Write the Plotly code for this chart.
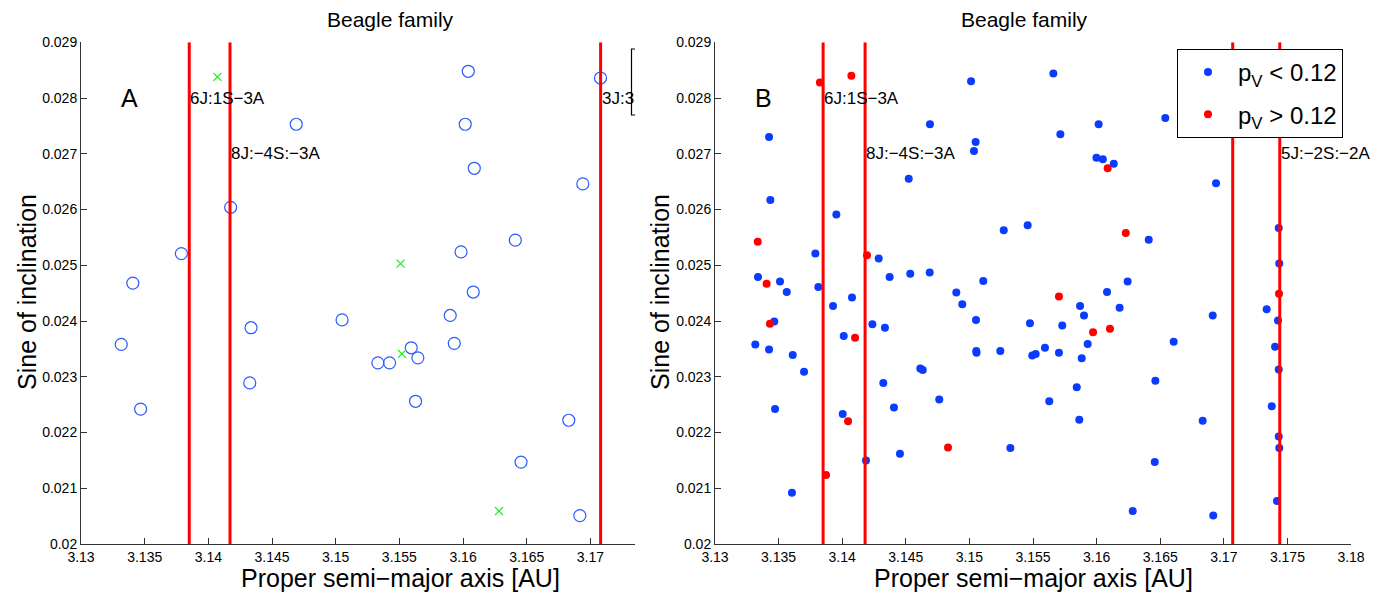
import plotly.graph_objects as go

# ---------------- data ----------------
# Panel A: open circles
a_circ = [3.1469, 3.14175, 3.13788, 3.13407, 3.16041, 3.17079, 3.16017, 3.16088, 3.1694,
          3.1641, 3.15984, 3.1505, 3.14335, 3.13316, 3.14325, 3.13468, 3.1608, 3.15899,
          3.15931, 3.15593, 3.15645, 3.15331, 3.15423, 3.15627, 3.1683, 3.16455, 3.16917]
i_circ = [0.02753, 0.02604, 0.02521, 0.02468, 0.02848, 0.02836, 0.02753, 0.02674, 0.02646,
          0.02545, 0.02524, 0.02402, 0.02388, 0.02358, 0.02289, 0.02242, 0.02452, 0.0241,
          0.0236, 0.02352, 0.02334, 0.02325, 0.02325, 0.02256, 0.02222, 0.02147, 0.02051]
# Panel A: green crosses
a_cross = [3.14071, 3.15509, 3.1552, 3.16282]
i_cross = [0.02838, 0.02503, 0.02341, 0.02059]

# Panel B: pV < 0.12 (blue)
a_low = [3.15013, 3.1469, 3.13425, 3.15049, 3.15036, 3.14523, 3.13435, 3.13954, 3.1527, 3.15458,
         3.13789, 3.14287, 3.13338, 3.13511, 3.14373, 3.14535, 3.14688, 3.15109, 3.13564, 3.13812,
         3.14897, 3.13928, 3.14077, 3.14944, 3.13466, 3.14237, 3.14336, 3.15052, 3.15476, 3.13317,
         3.13425, 3.14012, 3.13611, 3.15054, 3.15056, 3.15243, 3.15494, 3.15521, 3.15594, 3.137,
         3.14614, 3.14633, 3.14323, 3.13472, 3.14763, 3.14407, 3.14004, 3.15322, 3.14454, 3.14187,
         3.13605, 3.1566, 3.16016, 3.15715, 3.1654, 3.15999, 3.16049, 3.16135, 3.16939, 3.1641,
         3.17432, 3.17436, 3.16244, 3.16082, 3.1587, 3.16181, 3.15901, 3.16913, 3.17337, 3.17426,
         3.1573, 3.1593, 3.15704, 3.15883, 3.16606, 3.17403, 3.17432, 3.15844, 3.15628, 3.16462,
         3.17377, 3.15864, 3.16834, 3.17432, 3.17436, 3.16457, 3.17418, 3.16284, 3.16917]
i_low = [0.0283, 0.02753, 0.0273, 0.02721, 0.02705, 0.02655, 0.02617, 0.02591, 0.02563, 0.02572,
         0.02521, 0.02512, 0.02479, 0.02471, 0.02479, 0.02485, 0.02487, 0.02472, 0.02452, 0.02461,
         0.02451, 0.02427, 0.02442, 0.0243, 0.02399, 0.02394, 0.02388, 0.02402, 0.02396, 0.02358,
         0.02349, 0.02373, 0.02339, 0.02346, 0.02343, 0.02346, 0.02338, 0.02341, 0.02352, 0.02309,
         0.02315, 0.02312, 0.02289, 0.02242, 0.02259, 0.02245, 0.02233, 0.02172, 0.02162, 0.0215,
         0.02092, 0.02844, 0.02753, 0.02735, 0.02764, 0.02693, 0.0269, 0.02682, 0.02647, 0.02546,
         0.02567, 0.02503, 0.02471, 0.02452, 0.02427, 0.02424, 0.0241, 0.0241, 0.02421, 0.02401,
         0.02392, 0.02359, 0.02343, 0.02333, 0.02363, 0.02354, 0.02313, 0.02281, 0.02256, 0.02293,
         0.02247, 0.02223, 0.02221, 0.02193, 0.02172, 0.02147, 0.02077, 0.02059, 0.02051]
# Panel B: pV > 0.12 (red)
a_high = [3.13825, 3.14072, 3.13336, 3.14195, 3.13406, 3.13432, 3.14101, 3.14046, 3.14832, 3.13873,
          3.16087, 3.16229, 3.15704, 3.17434, 3.15972, 3.16105]
i_high = [0.02828, 0.0284, 0.02542, 0.02518, 0.02467, 0.02395, 0.0237, 0.0222, 0.02173, 0.02124,
          0.02674, 0.02558, 0.02444, 0.02449, 0.0238, 0.02386]

# resonances
res_a = [3.1385, 3.1417, 3.1708]
res_a_labels = ["6J:1S\u22123A", "8J:\u22124S:\u22123A", "3J:3"]
res_a_labely = [0.028, 0.027, 0.028]
res_b = [3.1385, 3.1418, 3.1707, 3.1744]
res_b_labels = ["6J:1S\u22123A", "8J:\u22124S:\u22123A", "", "5J:\u22122S:\u22122A"]
res_b_labely = [0.028, 0.027, 0.028, 0.027]

y_range = [0.02, 0.029]
y_ticks = [0.02, 0.021, 0.022, 0.023, 0.024, 0.025, 0.026, 0.027, 0.028, 0.029]
y_ticktext = ["0.02", "0.021", "0.022", "0.023", "0.024", "0.025", "0.026", "0.027", "0.028", "0.029"]
xa_range = [3.13, 3.1735]
xa_ticks = [3.13, 3.135, 3.14, 3.145, 3.15, 3.155, 3.16, 3.165, 3.17]
xa_ticktext = ["3.13", "3.135", "3.14", "3.145", "3.15", "3.155", "3.16", "3.165", "3.17"]
xb_range = [3.13, 3.18]
xb_ticks = [3.13, 3.135, 3.14, 3.145, 3.15, 3.155, 3.16, 3.165, 3.17, 3.175, 3.18]
xb_ticktext = ["3.13", "3.135", "3.14", "3.145", "3.15", "3.155", "3.16", "3.165", "3.17", "3.175", "3.18"]

FONT = "Liberation Sans, Arial, Helvetica, sans-serif"
W, H = 1387, 596
BLUE = "#0a3cff"
RED = "#ff0000"
GREEN = "#11ee11"

fig = go.Figure()

# Panel A
fig.add_trace(go.Scatter(x=a_circ, y=i_circ, mode="markers", xaxis="x", yaxis="y",
                         marker=dict(symbol="circle-open", size=12, color="#2a5cff", line=dict(width=1.2)),
                         showlegend=False))
fig.add_trace(go.Scatter(x=a_cross, y=i_cross, mode="markers", xaxis="x", yaxis="y",
                         marker=dict(symbol="x-thin-open", size=8, color=GREEN, line=dict(width=1.2, color=GREEN)),
                         showlegend=False))
for r in res_a:
    fig.add_trace(go.Scatter(x=[r, r], y=y_range, mode="lines", xaxis="x", yaxis="y",
                             line=dict(color=RED, width=3), showlegend=False, hoverinfo="skip"))

# Panel B
fig.add_trace(go.Scatter(x=a_low, y=i_low, mode="markers", xaxis="x2", yaxis="y2",
                         marker=dict(symbol="circle", size=8, color=BLUE),
                         name="p<sub>V</sub> &lt; 0.12", legendgroup="g1"))
fig.add_trace(go.Scatter(x=a_high, y=i_high, mode="markers", xaxis="x2", yaxis="y2",
                         marker=dict(symbol="circle", size=8, color=RED),
                         name="p<sub>V</sub> &gt; 0.12", legendgroup="g2"))
for r in res_b:
    fig.add_trace(go.Scatter(x=[r, r], y=y_range, mode="lines", xaxis="x2", yaxis="y2",
                             line=dict(color=RED, width=3), showlegend=False, hoverinfo="skip"))

axis_common = dict(showline=True, linecolor="#333333", linewidth=1, ticks="inside", ticklen=6,
                   tickcolor="#333333", showgrid=False, zeroline=False, automargin=False,
                   tickfont=dict(family=FONT, size=14, color="black"))
ydom = [52 / H, 553.7 / H]
fig.update_layout(
    width=W, height=H, margin=dict(l=0, r=0, t=0, b=0, pad=0),
    paper_bgcolor="white", plot_bgcolor="white",
    font=dict(family=FONT, color="black"),
    xaxis=dict(domain=[81 / W, 635 / W], range=xa_range, tickvals=xa_ticks, ticktext=xa_ticktext,
               anchor="y", **axis_common),
    yaxis=dict(domain=ydom, range=y_range, tickvals=y_ticks, ticktext=y_ticktext, anchor="x", **axis_common),
    xaxis2=dict(domain=[715 / W, 1351 / W], range=xb_range, tickvals=xb_ticks, ticktext=xb_ticktext,
                anchor="y2", **axis_common),
    yaxis2=dict(domain=ydom, range=y_range, tickvals=y_ticks, ticktext=y_ticktext, anchor="x2", **axis_common),
    legend=dict(x=1177 / W, y=1 - 49 / H, xanchor="left", yanchor="top", bordercolor="black", borderwidth=1,
                bgcolor="white", font=dict(family=FONT, size=24, color="black"), tracegroupgap=8,
                itemwidth=50),
)

ann = []
# titles
for cx in (390, 1024):
    ann.append(dict(x=cx / W, y=1 - 19 / H, xref="paper", yref="paper", text="Beagle family", showarrow=False,
                    font=dict(size=21, family=FONT), xanchor="center", yanchor="middle"))
# axis titles
for cx in (400, 1033):
    ann.append(dict(x=cx / W, y=1 - 578 / H, xref="paper", yref="paper", text="Proper semi\u2212major axis [AU]",
                    showarrow=False, font=dict(size=25, family=FONT), xanchor="center", yanchor="middle"))
for cx in (27, 660):
    ann.append(dict(x=cx / W, y=1 - 292 / H, xref="paper", yref="paper", text="Sine of inclination",
                    showarrow=False, textangle=-90, font=dict(size=25, family=FONT),
                    xanchor="center", yanchor="middle"))
# panel letters
ann.append(dict(x=3.133, y=0.028, xref="x", yref="y", text="A", showarrow=False, xanchor="left",
                yanchor="middle", font=dict(size=25, family=FONT)))
ann.append(dict(x=3.133, y=0.028, xref="x2", yref="y2", text="B", showarrow=False, xanchor="left",
                yanchor="middle", font=dict(size=25, family=FONT)))
# resonance labels
for r, t, yy in zip(res_a, res_a_labels, res_a_labely):
    ann.append(dict(x=r, y=yy, xref="x", yref="y", text=t, showarrow=False, xanchor="left", yanchor="middle",
                    font=dict(size=17, family=FONT), borderpad=0))
for r, t, yy in zip(res_b, res_b_labels, res_b_labely):
    if t:
        ann.append(dict(x=r, y=yy, xref="x2", yref="y2", text=t, showarrow=False, xanchor="left",
                        yanchor="middle", font=dict(size=17, family=FONT), borderpad=0))
fig.update_layout(annotations=ann)

# clipped legend frame of panel A
fig.add_shape(type="path", xref="paper", yref="paper",
              path=f"M {635/W},{1-49/H} L {631.5/W},{1-49/H} L {631.5/W},{1-115/H} L {635/W},{1-115/H}",
              line=dict(color="black", width=1.2))

fig.write_html("out.html")
